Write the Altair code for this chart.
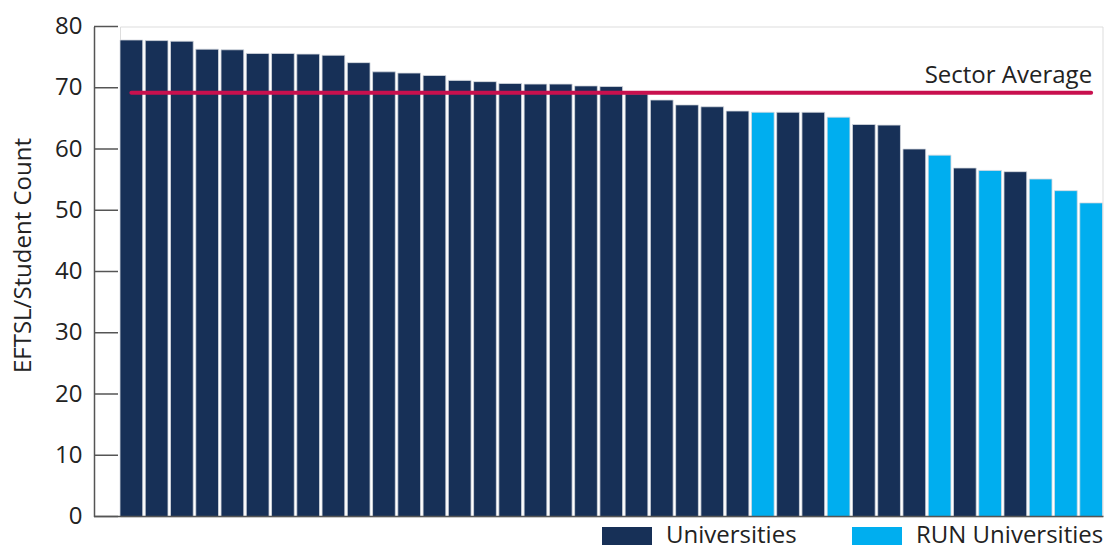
import altair as alt
import pandas as pd

# ---- data ----
universities = [f"U{i:02d}" for i in range(1, 40)]
values = [77.8, 77.7, 77.6, 76.3, 76.2, 75.6, 75.6, 75.5, 75.3, 74.1,
          72.6, 72.4, 72.0, 71.2, 71.0, 70.7, 70.6, 70.6, 70.3, 70.2,
          69.0, 68.0, 67.2, 66.9, 66.2, 66.0, 66.0, 66.0, 65.2, 64.0,
          63.9, 60.0, 59.0, 56.9, 56.5, 56.3, 55.1, 53.2, 51.2]
run_positions = [26, 29, 33, 35, 37, 38, 39]  # 1-based positions of RUN universities
groups = ["RUN Universities" if i + 1 in run_positions else "Universities"
          for i in range(len(values))]
sector_average = 69.2
sector_label = "Sector Average"
y_ticks = [0, 10, 20, 30, 40, 50, 60, 70, 80]
legend_order = ["Universities", "RUN Universities"]
legend_colors = ["#173057", "#00AEEF"]

df = pd.DataFrame({"uni": universities, "value": values, "group": groups})
avg_df = pd.DataFrame({"start": [universities[0]], "end": [universities[-1]],
                       "avg": [sector_average], "label": [sector_label]})
tick_df = pd.DataFrame({"t": y_ticks})

W, H = 982.5, 490
FONT = "Open Sans"
FS = 24

x_scale = alt.Scale(domain=universities, paddingInner=0.1, paddingOuter=0)
y_scale = alt.Scale(domain=[0, 80], nice=False)

bars = alt.Chart(df).mark_bar(stroke="#d5d9e0", strokeWidth=0.8).encode(
    x=alt.X("uni:N", scale=x_scale, sort=None, axis=None),
    y=alt.Y("value:Q", scale=y_scale,
            axis=alt.Axis(values=y_ticks, offset=26, ticks=False, grid=False,
                          domainColor="#555555", domainWidth=1.5,
                          labelFontSize=FS, labelColor="#222222", labelPadding=12,
                          labelFont=FONT,
                          title="EFTSL/Student Count", titleFont=FONT,
                          titleFontSize=FS, titleFontWeight="normal",
                          titleColor="#222222", titleAngle=270,
                          titleBaseline="alphabetic", titleAlign="center",
                          titleX=-64, titleY=228.5, titleLimit=400)),
    color=alt.Color("group:N",
                    scale=alt.Scale(domain=legend_order, range=legend_colors),
                    legend=alt.Legend(title=None, orient="none", direction="horizontal",
                                      legendX=482, legendY=484.5,
                                      symbolType="M-1,-0.36L1,-0.36L1,0.36L-1,0.36Z",
                                      symbolSize=2500, symbolStrokeWidth=0,
                                      labelFontSize=FS, labelFont=FONT,
                                      labelColor="#222222", labelOffset=14,
                                      labelLimit=400,
                                      columnPadding=55, padding=0)),
)

baseline = alt.Chart(tick_df).transform_filter("datum.t == 0").mark_rule(
    color="#555555", strokeWidth=1.5).encode(
    y=alt.Y("t:Q", scale=y_scale), x=alt.value(-26), x2=alt.value(W + 1)
)

ticks = alt.Chart(tick_df).mark_rule(color="#555555", strokeWidth=1.5).encode(
    y=alt.Y("t:Q", scale=y_scale), x=alt.value(-26), x2=alt.value(-2)
)

avg_rule = alt.Chart(avg_df).mark_rule(color="#C8104E", strokeWidth=4,
                                       strokeCap="round").encode(
    x=alt.X("start:N", scale=x_scale),
    x2="end:N",
    y=alt.Y("avg:Q", scale=y_scale),
)

avg_text = alt.Chart(avg_df).mark_text(align="right", baseline="alphabetic",
                                       fontSize=FS, font=FONT, color="#222222",
                                       dx=1, dy=-10).encode(
    x=alt.X("end:N", scale=x_scale),
    y=alt.Y("avg:Q", scale=y_scale),
    text="label:N",
)

chart = alt.layer(bars, baseline, ticks, avg_rule, avg_text).properties(
    width=W, height=H,
    autosize=alt.AutoSizeParams(type="none"),
    padding={"left": 120, "top": 26.5, "right": 3.5, "bottom": 28.5},
).configure_view(stroke=None).configure(font=FONT)

chart.save("out.html", embed_options={"renderer": "svg", "actions": False})
